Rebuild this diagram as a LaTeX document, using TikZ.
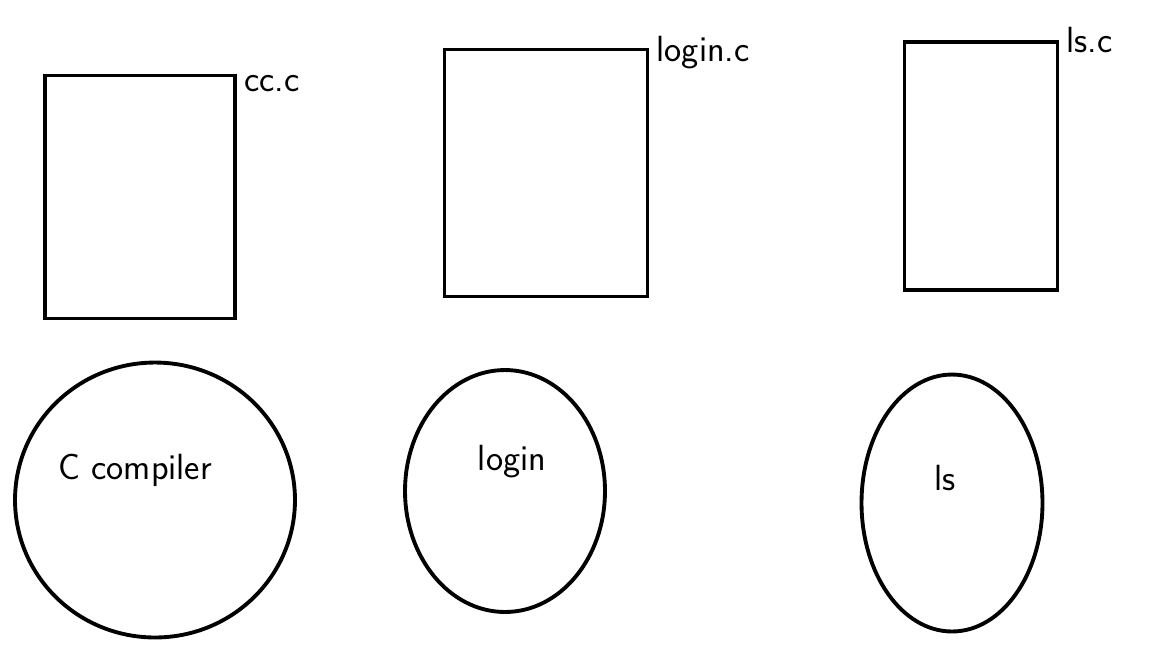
\documentclass[tikz,border=0pt]{standalone}
\usetikzlibrary{shapes.geometric}

\begin{document}
\begin{tikzpicture}[x=0.02cm,y=-0.02cm,line width=2.2pt,every node/.style={font=\sffamily\huge},
  srcfile/.style={draw,rectangle,inner sep=0pt},
  binprog/.style={draw,ellipse,inner sep=0pt}]
\useasboundingbox (0,0) rectangle (1158,657);
% source files
\node[srcfile,minimum width=3.8cm,minimum height=4.86cm] (cc) at (140,197) {};
\node[srcfile,minimum width=4.06cm,minimum height=4.94cm] (login) at (546,173) {};
\node[srcfile,minimum width=3.06cm,minimum height=4.96cm] (ls) at (981,166) {};
\node[anchor=west,inner sep=3pt] (ccname) at ([yshift=-0.2cm]cc.north east) {cc.c};
\node[anchor=west,inner sep=3pt] (loginname) at ([yshift=-0.1cm]login.north east) {login.c};
\node[anchor=west,inner sep=3pt] (lsname) at (ls.north east) {ls.c};
% programs
\node[binprog,minimum width=5.6cm,minimum height=5.5cm] (ccprog) at (155,500) {};
\node[binprog,minimum width=4cm,minimum height=4.84cm] (loginprog) at (505,491) {};
\node[binprog,minimum width=3.62cm,minimum height=5.14cm] (lsprog) at (952,503) {};
\node (cctext) at (135,470) {C compiler};
\node (logintext) at (512,462) {login};
\node (lstext) at (945,478) {ls};
\end{tikzpicture}
\end{document}
